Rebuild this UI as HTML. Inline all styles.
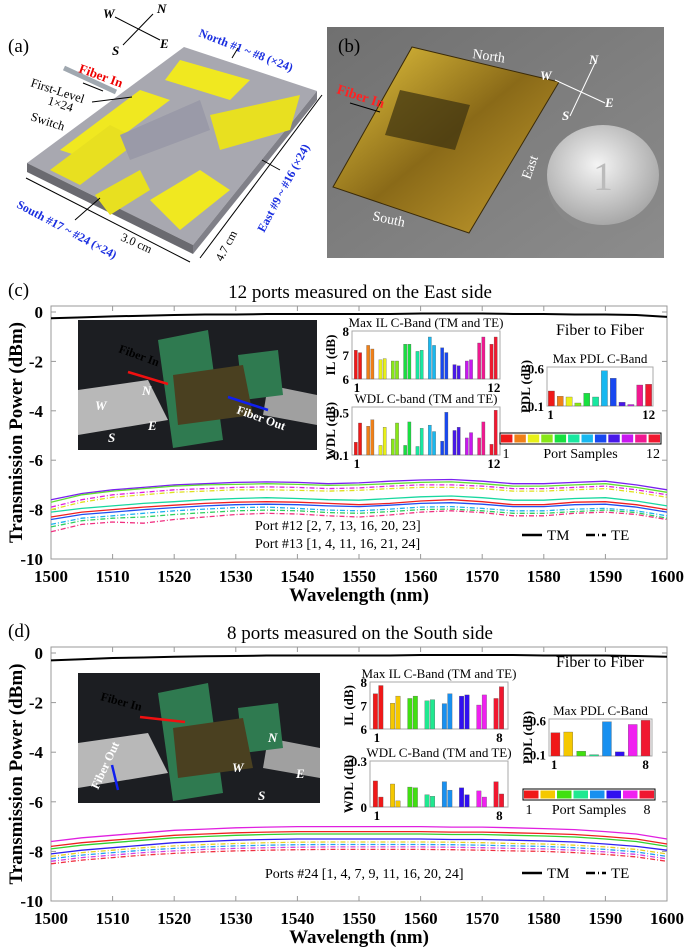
<!DOCTYPE html>
<html><head><meta charset="utf-8">
<style>
html,body{margin:0;padding:0;background:#fff;}
svg{display:block;font-family:"Liberation Serif",serif;}
</style></head>
<body>
<svg id="fig" width="685" height="950" viewBox="0 0 685 950" xmlns="http://www.w3.org/2000/svg">
<defs>
<linearGradient id="gold" x1="0" y1="0" x2="1" y2="1"><stop offset="0" stop-color="#e8c840"/><stop offset="0.5" stop-color="#8a6a18"/><stop offset="1" stop-color="#c8a030"/></linearGradient>
<radialGradient id="coin" cx="0.45" cy="0.4" r="0.6"><stop offset="0" stop-color="#f4f4f4"/><stop offset="1" stop-color="#a8a8a8"/></radialGradient>
<linearGradient id="bg" x1="0" y1="0" x2="1" y2="1"><stop offset="0" stop-color="#707070"/><stop offset="1" stop-color="#8c8c8c"/></linearGradient>
</defs>

<!-- Panel (a) -->
<g>
<text x="8" y="52" font-size="19">(a)</text>
<g stroke="#000" stroke-width="1">
<line x1="115" y1="17" x2="160" y2="40"/><line x1="153" y1="14" x2="123" y2="45"/>
</g>
<text x="103" y="18" font-size="13" font-weight="bold" font-style="italic">W</text>
<text x="157" y="13" font-size="13" font-weight="bold" font-style="italic">N</text>
<text x="160" y="48" font-size="13" font-weight="bold" font-style="italic">E</text>
<text x="112" y="55" font-size="13" font-weight="bold" font-style="italic">S</text>
<polygon points="27,163 184,47 317,91 193,245" fill="#a8a8b0"/>
<polygon points="27,163 193,245 193,254 27,172" fill="#6a6a70"/>
<polygon points="193,245 317,91 317,100 193,254" fill="#808088"/>
<polygon points="60,150 140,90 170,100 90,160" fill="#f0e820"/>
<polygon points="50,170 110,125 140,140 80,185" fill="#e8e020"/>
<polygon points="180,60 250,80 230,100 165,80" fill="#f0e820"/>
<polygon points="210,115 300,95 290,130 220,150" fill="#e8e020"/>
<polygon points="150,200 200,170 230,190 180,230" fill="#f0e820"/>
<polygon points="95,195 140,170 150,190 110,215" fill="#e8e020"/>
<polygon points="120,135 200,100 210,130 130,160" fill="#9a9aa8"/>
<line x1="64" y1="68" x2="116" y2="92" stroke="#a0a8b0" stroke-width="5"/>
<text x="78" y="72" font-size="13" font-weight="bold" fill="#e00" transform="rotate(20 78 72)">Fiber In</text>
<line x1="83" y1="83" x2="103" y2="91" stroke="#000" stroke-width="1"/>
<text x="30" y="86" font-size="12.5" transform="rotate(18 30 86)">First-Level</text>
<text x="47" y="104" font-size="12.5" transform="rotate(18 47 104)">1×24</text>
<text x="30" y="120" font-size="12.5" transform="rotate(18 30 120)">Switch</text>
<line x1="92" y1="102" x2="132" y2="97" stroke="#000" stroke-width="1"/>
<text x="198" y="36" font-size="12" font-weight="bold" fill="#1a2ee0" transform="rotate(21 198 36)">North #1 ~ #8 (×24)</text>
<line x1="232" y1="58" x2="238" y2="48" stroke="#000"/>
<text x="16" y="207" font-size="12" font-weight="bold" fill="#1a2ee0" transform="rotate(28 16 207)">South #17 ~ #24 (×24)</text>
<line x1="75" y1="220" x2="100" y2="198" stroke="#000"/>
<text x="120" y="240" font-size="12" transform="rotate(24 120 240)">3.0 cm</text>
<line x1="26" y1="178" x2="190" y2="262" stroke="#000"/>
<text x="222" y="262" font-size="12" transform="rotate(-62 222 262)">4.7 cm</text>
<line x1="200" y1="258" x2="322" y2="95" stroke="#000"/>
<text x="264" y="233" font-size="12" font-weight="bold" fill="#1a2ee0" transform="rotate(-62 264 233)">East #9 ~ #16 (×24)</text>
<line x1="280" y1="170" x2="262" y2="160" stroke="#000"/>
</g>

<!-- Panel (b) -->
<g>
<rect x="327" y="27" width="337" height="231" fill="url(#bg)"/>
<text x="338" y="52" font-size="19">(b)</text>
<polygon points="412,47 559,82 469,233 333,187" fill="url(#gold)" stroke="#3a2a08"/>
<polygon points="400,90 470,105 455,150 385,135" fill="#3a3010" opacity="0.7"/>
<ellipse cx="605" cy="182" rx="58" ry="52" fill="#888"/>
<ellipse cx="603" cy="175" rx="56" ry="50" fill="url(#coin)"/>
<text x="603" y="190" font-size="40" text-anchor="middle" fill="#bbb">1</text>
<text x="472" y="58" font-size="14" fill="#fff" transform="rotate(8 472 58)">North</text>
<text x="336" y="93" font-size="14" font-weight="bold" fill="#f22" transform="rotate(18 336 93)">Fiber In</text>
<line x1="350" y1="103" x2="380" y2="112" stroke="#000"/>
<text x="530" y="180" font-size="14" fill="#fff" transform="rotate(-70 530 180)">East</text>
<text x="372" y="220" font-size="14" fill="#fff" transform="rotate(12 372 220)">South</text>
<g stroke="#fff" stroke-width="1"><line x1="555" y1="80" x2="605" y2="103"/><line x1="595" y1="63" x2="570" y2="116"/></g>
<text x="589" y="64" font-size="13" font-weight="bold" font-style="italic" fill="#fff">N</text>
<text x="540" y="80" font-size="13" font-weight="bold" font-style="italic" fill="#fff">W</text>
<text x="605" y="107" font-size="13" font-weight="bold" font-style="italic" fill="#fff">E</text>
<text x="562" y="120" font-size="13" font-weight="bold" font-style="italic" fill="#fff">S</text>
</g>

<g id="charts"></g>
</svg>
<script>
// ---------- Data ----------
const wavelengths = [1500,1505,1510,1515,1520,1525,1530,1535,1540,1545,1550,1555,1560,1565,1570,1575,1580,1585,1590,1595,1600];
const xTicks = [1500,1510,1520,1530,1540,1550,1560,1570,1580,1590,1600];
const yTicks = [0,-2,-4,-6,-8,-10];

// Panel c curves
const cFiber = [-0.25,-0.22,-0.18,-0.15,-0.12,-0.1,-0.1,-0.08,-0.08,-0.08,-0.08,-0.08,-0.06,-0.06,-0.06,-0.08,-0.08,-0.1,-0.1,-0.12,-0.2];
const cTMPurple = [-7.6,-7.35,-7.2,-7.1,-7.0,-6.95,-6.9,-6.88,-6.9,-6.95,-6.92,-6.85,-6.8,-6.78,-6.85,-6.95,-6.95,-6.9,-6.85,-7.0,-7.2];
const cTMGreen = [-7.7,-7.4,-7.25,-7.15,-7.05,-7.0,-6.98,-6.95,-6.98,-7.02,-7.0,-6.95,-6.9,-6.88,-6.95,-7.05,-7.05,-7.0,-6.95,-7.1,-7.3];
const cTMRed = [-8.3,-8.1,-8.0,-7.9,-7.82,-7.75,-7.7,-7.68,-7.7,-7.75,-7.8,-7.75,-7.65,-7.6,-7.68,-7.8,-7.8,-7.7,-7.68,-7.8,-8.0];
const cTMTeal = [-8.1,-7.95,-7.85,-7.75,-7.68,-7.6,-7.55,-7.52,-7.55,-7.6,-7.62,-7.55,-7.48,-7.45,-7.52,-7.62,-7.62,-7.55,-7.52,-7.65,-7.85];
const cTMBlue = [-8.4,-8.2,-8.1,-8.0,-7.92,-7.85,-7.8,-7.78,-7.8,-7.85,-7.88,-7.82,-7.75,-7.72,-7.78,-7.88,-7.88,-7.8,-7.78,-7.9,-8.1];
const cTEMagenta = [-7.9,-7.6,-7.4,-7.3,-7.2,-7.15,-7.1,-7.08,-7.1,-7.15,-7.12,-7.05,-7.0,-7.0,-7.05,-7.15,-7.15,-7.1,-7.05,-7.2,-7.4];
const cTEYellow = [-8.0,-7.7,-7.5,-7.4,-7.3,-7.25,-7.2,-7.2,-7.22,-7.25,-7.22,-7.15,-7.1,-7.1,-7.15,-7.25,-7.25,-7.2,-7.15,-7.3,-7.5];
const cTESky = [-8.6,-8.35,-8.25,-8.15,-8.05,-7.98,-7.92,-7.9,-7.95,-8.02,-8.05,-7.98,-7.9,-7.88,-7.95,-8.05,-8.05,-7.98,-7.95,-8.05,-8.25];
const cTEPink = [-8.9,-8.6,-8.5,-8.55,-8.4,-8.3,-8.2,-8.15,-8.18,-8.25,-8.3,-8.22,-8.1,-8.05,-8.12,-8.25,-8.25,-8.15,-8.1,-8.2,-8.4];
const cTEGreen = [-8.7,-8.45,-8.35,-8.3,-8.2,-8.12,-8.05,-8.02,-8.05,-8.12,-8.15,-8.08,-8.0,-7.98,-8.05,-8.15,-8.15,-8.08,-8.02,-8.12,-8.35];

// Panel d curves
const dFiber = [-0.3,-0.25,-0.2,-0.18,-0.15,-0.13,-0.12,-0.1,-0.1,-0.1,-0.1,-0.1,-0.08,-0.08,-0.08,-0.08,-0.1,-0.1,-0.1,-0.12,-0.15];
const dTMMagenta = [-7.6,-7.45,-7.35,-7.25,-7.15,-7.1,-7.05,-7.02,-7.0,-7.0,-7.0,-7.0,-7.0,-7.02,-7.02,-7.05,-7.08,-7.12,-7.2,-7.3,-7.5];
const dTMRed = [-7.8,-7.65,-7.55,-7.45,-7.35,-7.3,-7.25,-7.22,-7.2,-7.2,-7.2,-7.2,-7.2,-7.22,-7.22,-7.25,-7.28,-7.32,-7.4,-7.5,-7.7];
const dTMGreen = [-7.9,-7.75,-7.65,-7.55,-7.45,-7.4,-7.35,-7.32,-7.3,-7.3,-7.3,-7.3,-7.3,-7.32,-7.32,-7.35,-7.38,-7.42,-7.5,-7.6,-7.8];
const dTMBlue = [-8.1,-7.95,-7.85,-7.75,-7.65,-7.6,-7.55,-7.52,-7.5,-7.5,-7.5,-7.5,-7.5,-7.52,-7.52,-7.55,-7.58,-7.62,-7.7,-7.8,-7.95];
const dTEYellow = [-8.2,-8.05,-7.95,-7.85,-7.78,-7.72,-7.68,-7.65,-7.63,-7.62,-7.62,-7.62,-7.62,-7.63,-7.65,-7.68,-7.7,-7.75,-7.82,-7.92,-8.1];
const dTESky = [-8.3,-8.15,-8.05,-7.95,-7.88,-7.82,-7.78,-7.75,-7.73,-7.72,-7.72,-7.72,-7.72,-7.73,-7.75,-7.78,-7.8,-7.85,-7.92,-8.02,-8.2];
const dTEMagenta = [-8.4,-8.25,-8.15,-8.05,-7.98,-7.92,-7.88,-7.85,-7.83,-7.82,-7.82,-7.82,-7.82,-7.83,-7.85,-7.88,-7.9,-7.95,-8.02,-8.12,-8.3];
const dTERed = [-8.5,-8.35,-8.25,-8.15,-8.08,-8.02,-7.98,-7.95,-7.93,-7.92,-7.92,-7.92,-7.92,-7.93,-7.95,-7.98,-8.0,-8.05,-8.12,-8.22,-8.4];

// Inset bar data, panel c (12 ports)
const cPortColors = ["#f01818","#f08018","#e8f018","#88e818","#18e040","#18e8a0","#18b8f0","#1848f0","#4818e8","#c818f0","#f01890","#f01830"];
const cIL_TM = [7.2,7.4,6.8,6.75,7.45,7.15,7.75,7.3,6.6,6.75,7.5,7.45];
const cIL_TE = [7.1,7.25,6.85,6.75,7.45,7.2,7.4,7.1,6.55,6.8,7.75,7.75];
const cWDL_TM = [0.22,0.37,0.19,0.25,0.19,0.18,0.38,0.23,0.33,0.26,0.26,0.2];
const cWDL_TE = [0.4,0.43,0.36,0.4,0.41,0.35,0.32,0.5,0.36,0.31,0.41,0.52];
const cPDL = [0.3,0.23,0.22,0.14,0.27,0.22,0.57,0.47,0.15,0.12,0.38,0.39];
// Inset bar data, panel d (8 ports)
const dPortColors = ["#f01818","#f5c800","#40e010","#20e890","#1890f0","#3010f0","#f020f0","#f01830"];
const dIL_TM = [7.5,7.1,7.3,7.2,7.08,7.4,7.02,7.3];
const dIL_TE = [7.85,7.4,7.4,7.25,7.5,7.45,7.45,7.8];
const dWDL_TM = [0.17,0.15,0.13,0.08,0.165,0.125,0.105,0.165];
const dWDL_TE = [0.065,0.04,0.125,0.07,0.11,0.08,0.065,0.085];
const dPDL = [0.42,0.43,0.15,0.1,0.58,0.14,0.54,0.6];

// ---------- Drawing ----------
const NS = "http://www.w3.org/2000/svg";
const root = document.getElementById("charts");
function mk(tag, attrs, parent, text){
  const e = document.createElementNS(NS, tag);
  for (const k in attrs) e.setAttribute(k, attrs[k]);
  if (text !== undefined) e.textContent = text;
  (parent||root).appendChild(e);
  return e;
}

function mainChart(panel, top, y0px, yScale, title, curves, fiber){
  const g = mk("g", {});
  
  
  const L = 51, R = 667, B = y0px - 10*(-yScale) ;
  const x = w => L + (w-1500)/100*(R-L);
  const y = v => y0px - v*yScale;
  const bottom = y(-10);
  const lab = mk("text", {x:8, y:top-10, "font-size":19}, g, "(" + panel + ")");
  
  
  const t = mk("text", {x:360, y:top-8, "font-size":19, "text-anchor":"middle"}, g, title);
  
  
  const frame = mk("rect", {x:L, y:top, width:R-L, height:bottom-top, fill:"none", stroke:"#999", "stroke-width":1}, g);
  
  
  xTicks.forEach(w=>{
    mk("line", {x1:x(w), x2:x(w), y1:bottom, y2:bottom-5, stroke:"#999"}, g);
    mk("line", {x1:x(w), x2:x(w), y1:top, y2:top+5, stroke:"#999"}, g);
    const tl = mk("text", {x:x(w), y:bottom+23, "font-size":17, "font-weight":"bold", "text-anchor":"middle"}, g, w);
    
    
  });
  yTicks.forEach(v=>{
    mk("line", {x1:L, x2:L+5, y1:y(v), y2:y(v), stroke:"#999"}, g);
    mk("line", {x1:R, x2:R-5, y1:y(v), y2:y(v), stroke:"#999"}, g);
    const tl = mk("text", {x:L-8, y:y(v)+6, "font-size":17, "font-weight":"bold", "text-anchor":"end"}, g, v);
    
    
  });
  const xt = mk("text", {x:(L+R)/2, y:bottom+42, "font-size":19, "font-weight":"bold", "text-anchor":"middle"}, g, "Wavelength (nm)");
  
  
  const ymid = (top+bottom)/2;
  const yt = mk("text", {x:22, y:ymid, "font-size":19, "font-weight":"bold", "text-anchor":"middle", transform:`rotate(-90 22 ${ymid})`}, g, "Transmission Power (dBm)");
  
  
  curves.forEach(c=>{
    const d = c.data.map((v,i)=>(i?"L":"M")+x(wavelengths[i]).toFixed(1)+","+y(v).toFixed(1)).join(" ");
    const p = mk("path", {d:d, fill:"none", stroke:c.color, "stroke-width":1.3, "stroke-dasharray":c.te?"5,2,1,2":"none"}, g);
    
    
  });
  const fd = fiber.map((v,i)=>(i?"L":"M")+x(wavelengths[i]).toFixed(1)+","+y(v).toFixed(1)).join(" ");
  const fp = mk("path", {d:fd, fill:"none", stroke:"#000", "stroke-width":2}, g);
  
  
  return {g, x, y, bottom};
}

function barChart(g, name, bx, by, bw, bh, vmin, vmax, s1, s2, colors, yt, title, ylab, firstLab, lastLab){
  const c = mk("g", {}, g);
  
  
  mk("rect", {x:bx, y:by, width:bw, height:bh, fill:"#fff", stroke:"#aaa"}, c);
  const n = s1.length;
  const gw = bw/n;
  const vy = v => by + bh - (Math.max(v,vmin)-vmin)/(vmax-vmin)*bh;
  s1.forEach((v,i)=>{
    const bwid = s2 ? gw*0.26 : gw*0.7;
    const x0 = bx + gw*i + (s2 ? gw*0.18 : gw*0.15);
    const r = mk("rect", {x:x0, y:vy(v), width:bwid, height:by+bh-vy(v), fill:colors[i], stroke:"#555", "stroke-width":0.3}, c);
    
    
    if (s2){
      const r2 = mk("rect", {x:x0+bwid+1, y:vy(s2[i]), width:bwid, height:by+bh-vy(s2[i]), fill:colors[i], stroke:"#555", "stroke-width":0.3}, c);
      
      
    }
  });
  yt.forEach(v=>{
    mk("text", {x:bx-3, y:vy(v)+5, "font-size":13, "font-weight":"bold", "text-anchor":"end"}, c, v);
  });
  mk("text", {x:bx+bw/2, y:by-4, "font-size":13, "text-anchor":"middle"}, c, title);
  const my = by+bh/2;
  mk("text", {x:bx-17, y:my, "font-size":13, "font-weight":"bold", "text-anchor":"middle", transform:`rotate(-90 ${bx-17} ${my})`}, c, ylab);
  mk("text", {x:bx+gw*0.4, y:by+bh+13, "font-size":13, "font-weight":"bold", "text-anchor":"middle"}, c, firstLab);
  mk("text", {x:bx+gw*(n-0.5), y:by+bh+13, "font-size":13, "font-weight":"bold", "text-anchor":"middle"}, c, lastLab);
}

function colorBar(g, bx, by, bw, bh, colors, lastLab){
  const c = mk("g", {}, g);
  
  
  mk("rect", {x:bx, y:by, width:bw, height:bh, fill:"#fff", stroke:"#000"}, c);
  const w = bw/colors.length;
  colors.forEach((col,i)=>{ mk("rect", {x:bx+i*w+1, y:by+1.5, width:w-2, height:bh-3, fill:col}, c); });
  mk("text", {x:bx+6, y:by+bh+14, "font-size":14, "text-anchor":"middle"}, c, "1");
  mk("text", {x:bx+bw/2, y:by+bh+14, "font-size":14, "text-anchor":"middle"}, c, "Port Samples");
  mk("text", {x:bx+bw-8, y:by+bh+14, "font-size":14, "text-anchor":"middle"}, c, lastLab);
}

function photo(g, x0, y0, w, h, fiberOutLow){
  const p = mk("g", {}, g);
  
  
  mk("rect", {x:x0, y:y0, width:w, height:h, fill:"#1c1e22"}, p);
  mk("polygon", {points:`${x0},${y0+70} ${x0+70},${y0+60} ${x0+90},${y0+100} ${x0},${y0+115}`, fill:"#b8b8b8"}, p);
  mk("polygon", {points:`${x0+190},${y0+65} ${x0+w},${y0+75} ${x0+w},${y0+105} ${x0+185},${y0+95}`, fill:"#a0a0a0"}, p);
  mk("polygon", {points:`${x0+80},${y0+20} ${x0+130},${y0+10} ${x0+145},${y0+120} ${x0+95},${y0+128}`, fill:"#2f7a50"}, p);
  mk("polygon", {points:`${x0+160},${y0+35} ${x0+200},${y0+30} ${x0+205},${y0+75} ${x0+165},${y0+80}`, fill:"#2f7a50"}, p);
  mk("polygon", {points:`${x0+95},${y0+55} ${x0+165},${y0+45} ${x0+175},${y0+95} ${x0+100},${y0+105}`, fill:"#4a4020"}, p);
  return p;
}

// Panel c
const cCurves = [
  {data:cTMPurple,color:"#7a20f0"},{data:cTMGreen,color:"#60e030"},{data:cTMRed,color:"#f02020"},
  {data:cTMTeal,color:"#18d8a0"},{data:cTMBlue,color:"#2050f0"},
  {data:cTEMagenta,color:"#e020e0",te:1},{data:cTEYellow,color:"#e0e020",te:1},{data:cTESky,color:"#20b0f0",te:1},
  {data:cTEPink,color:"#f03080",te:1},{data:cTEGreen,color:"#30d060",te:1}
];
const C = mainChart("c", 306, 312, 24.7, "12 ports measured on the East side", cCurves, cFiber);
let pc = photo(C.g, 78, 320, 239, 130);
mk("text", {x:118, y:352, "font-size":12, "font-weight":"bold", transform:"rotate(20 118 352)"}, pc, "Fiber In");
mk("line", {x1:128, y1:372, x2:168, y2:384, stroke:"#f01010", "stroke-width":2.5}, pc);
mk("line", {x1:228, y1:397, x2:268, y2:410, stroke:"#1020f0", "stroke-width":2.5}, pc);
mk("text", {x:236, y:413, "font-size":12, "font-weight":"bold", transform:"rotate(20 236 413)", fill:"#fff"}, pc, "Fiber Out");
mk("text", {x:95, y:410, "font-size":13, "font-weight":"bold", "font-style":"italic", fill:"#fff"}, pc, "W");
mk("text", {x:148, y:430, "font-size":13, "font-weight":"bold", "font-style":"italic", fill:"#fff"}, pc, "E");
mk("text", {x:108, y:442, "font-size":13, "font-weight":"bold", "font-style":"italic", fill:"#fff"}, pc, "S");
mk("text", {x:142, y:395, "font-size":13, "font-weight":"bold", "font-style":"italic", fill:"#fff"}, pc, "N");
barChart(C.g, "max-il-inset", 352, 331, 148, 48, 6, 8, cIL_TM, cIL_TE, cPortColors, [8,7,6], "Max IL C-Band (TM and TE)", "IL (dB)", "1", "12");
barChart(C.g, "wdl-inset", 352, 407, 148, 48, 0.1, 0.55, cWDL_TM, cWDL_TE, cPortColors, [0.5,0.1], "WDL C-band (TM and TE)", "WDL (dB)", "1", "12");
barChart(C.g, "max-pdl-inset", 547, 367, 106, 39, 0.1, 0.62, cPDL, null, cPortColors, [0.6,0.1], "Max PDL C-Band", "PDL (dB)", "1", "12");
colorBar(C.g, 500, 433, 161, 11, cPortColors, "12");
mk("text", {x:600, y:335, "font-size":16, "text-anchor":"middle"}, C.g, "Fiber to Fiber");
mk("text", {x:255, y:530, "font-size":14}, C.g, "Port #12 [2, 7, 13, 16, 20, 23]");
mk("text", {x:255, y:548, "font-size":14}, C.g, "Port #13 [1, 4, 11, 16, 21, 24]");
mk("line", {x1:522, y1:535, x2:542, y2:535, stroke:"#000", "stroke-width":2.5}, C.g);
mk("text", {x:547, y:540, "font-size":15}, C.g, "TM");
mk("line", {x1:586, y1:535, x2:606, y2:535, stroke:"#000", "stroke-width":2.5, "stroke-dasharray":"9,3,1,3"}, C.g);
mk("text", {x:611, y:540, "font-size":15}, C.g, "TE");

// Panel d
const dCurves = [
  {data:dTMMagenta,color:"#e020e0"},{data:dTMRed,color:"#f02020"},{data:dTMGreen,color:"#30d030"},{data:dTMBlue,color:"#3020f0"},
  {data:dTEYellow,color:"#e8d020",te:1},{data:dTESky,color:"#20a0f0",te:1},{data:dTEMagenta,color:"#d040e0",te:1},{data:dTERed,color:"#f03040",te:1}
];
const D = mainChart("d", 647, 653, 24.8, "8 ports measured on the South side", dCurves, dFiber);
let pd = photo(D.g, 78, 673, 242, 130);
mk("text", {x:100, y:700, "font-size":12, "font-weight":"bold", transform:"rotate(15 100 700)"}, pd, "Fiber In");
mk("line", {x1:140, y1:717, x2:185, y2:722, stroke:"#f01010", "stroke-width":2.5}, pd);
mk("line", {x1:112, y1:765, x2:118, y2:790, stroke:"#1020f0", "stroke-width":2.5}, pd);
mk("text", {x:98, y:790, "font-size":12, "font-weight":"bold", fill:"#fff", transform:"rotate(-65 98 790)"}, pd, "Fiber Out");
mk("text", {x:268, y:742, "font-size":13, "font-weight":"bold", "font-style":"italic", fill:"#fff"}, pd, "N");
mk("text", {x:232, y:772, "font-size":13, "font-weight":"bold", "font-style":"italic", fill:"#fff"}, pd, "W");
mk("text", {x:296, y:778, "font-size":13, "font-weight":"bold", "font-style":"italic", fill:"#fff"}, pd, "E");
mk("text", {x:258, y:800, "font-size":13, "font-weight":"bold", "font-style":"italic", fill:"#fff"}, pd, "S");
barChart(D.g, "max-il-inset", 370, 682, 138, 47, 6, 8, dIL_TM, dIL_TE, dPortColors, [8,7,6], "Max IL C-Band (TM and TE)", "IL (dB)", "1", "8");
barChart(D.g, "wdl-inset", 370, 761, 138, 46, 0, 0.3, dWDL_TM, dWDL_TE, dPortColors, [0.3,0], "WDL C-Band (TM and TE)", "WDL (dB)", "1", "8");
barChart(D.g, "max-pdl-inset", 549, 719, 103, 37, 0.08, 0.62, dPDL, null, dPortColors, [0.6,0.1], "Max PDL C-Band", "PDL (dB)", "1", "8");
colorBar(D.g, 523, 789, 132, 11, dPortColors, "8");
mk("text", {x:600, y:667, "font-size":16, "text-anchor":"middle"}, D.g, "Fiber to Fiber");
mk("text", {x:265, y:878, "font-size":14}, D.g, "Ports #24 [1, 4, 7, 9, 11, 16, 20, 24]");
mk("line", {x1:522, y1:873, x2:542, y2:873, stroke:"#000", "stroke-width":2.5}, D.g);
mk("text", {x:547, y:878, "font-size":15}, D.g, "TM");
mk("line", {x1:586, y1:873, x2:606, y2:873, stroke:"#000", "stroke-width":2.5, "stroke-dasharray":"9,3,1,3"}, D.g);
mk("text", {x:611, y:878, "font-size":15}, D.g, "TE");
</script>
</body></html>
